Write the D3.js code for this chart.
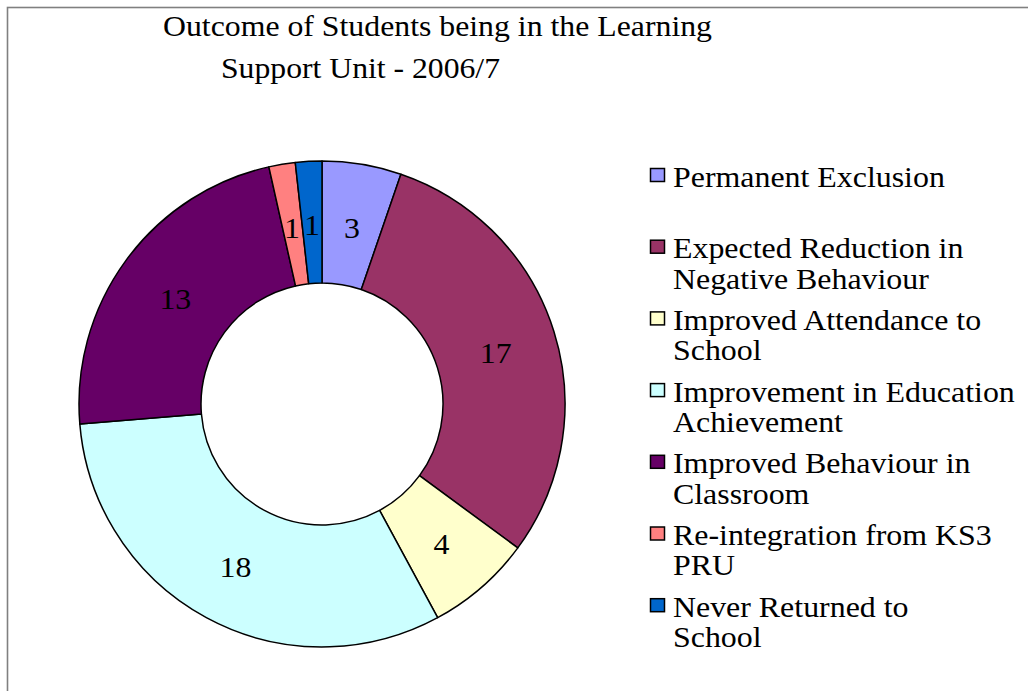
<!DOCTYPE html>
<html>
<head>
<meta charset="utf-8">
<script src="https://cdn.jsdelivr.net/npm/d3@7/dist/d3.min.js"></script>
<style>
  body { margin: 0; background: #fff; }
  text { font-family: "Liberation Serif", "Times New Roman", serif; fill: #000; }
</style>
</head>
<body>
<div id="chart"></div>
<script>
var titleLines = ["Outcome of Students being in the Learning", "Support Unit - 2006/7"];
var categories = [
    "Permanent Exclusion",
    "Expected Reduction in\nNegative Behaviour",
    "Improved Attendance to\nSchool",
    "Improvement in Education\nAchievement",
    "Improved Behaviour in\nClassroom",
    "Re-integration from KS3\nPRU",
    "Never Returned to\nSchool"
];
var values = [3, 17, 4, 18, 13, 1, 1];
var colors = ["#9999ff", "#993366", "#ffffcc", "#ccffff", "#660066", "#ff8080", "#0066cc"];

var width = 1028, height = 691;
var cx = 322, cy = 404, outerR = 243, innerR = 121;
var stretch = 1.1; // the original text is a bit wide

var svg = d3.select("#chart").append("svg")
    .attr("width", width)
    .attr("height", height);

// chart area frame (only top and left edges are visible)
svg.append("rect")
    .attr("x", 7.5).attr("y", 7.5)
    .attr("width", 1200).attr("height", 900)
    .attr("fill", "none")
    .attr("stroke", "#808080")
    .attr("stroke-width", 1.6);

// title
var titleX = [163, 221], titleY = [36, 78], titleW = [549, 279];
titleLines.forEach(function(t, i) {
    svg.append("text")
        .attr("x", titleX[i]).attr("y", titleY[i])
        .attr("font-size", 29)
        .attr("textLength", titleW[i])
        .attr("lengthAdjust", "spacingAndGlyphs")
        .text(t);
});

var pie = d3.pie().sort(null).value(function(d) { return d; });
var arcs = pie(values);
var arc = d3.arc().innerRadius(innerR).outerRadius(outerR);
var labelArc = d3.arc().innerRadius((innerR + outerR) / 2).outerRadius((innerR + outerR) / 2);

var g = svg.append("g").attr("transform", "translate(" + cx + "," + cy + ")");

g.selectAll("path.slice")
    .data(arcs)
    .enter().append("path")
    .attr("class", "slice")
    .attr("d", arc)
    .attr("fill", function(d, i) { return colors[i]; })
    .attr("stroke", "#000")
    .attr("stroke-width", 1.5)
    .attr("stroke-linejoin", "round");

g.selectAll("text.val")
    .data(arcs)
    .enter().append("text")
    .attr("class", "val")
    .attr("transform", function(d) {
        var c = labelArc.centroid(d);
        return "translate(" + c[0] + "," + (c[1] + 3) + ") scale(" + stretch + ",1)";
    })
    .attr("text-anchor", "middle")
    .attr("dy", "0.35em")
    .attr("font-size", 29)
    .text(function(d) { return d.value; });

// legend
var legendX = 650, legendY = 186.5, itemGap = 71.7, lineGap = 30.5;
var legend = svg.append("g");
var items = legend.selectAll("g.item")
    .data(categories)
    .enter().append("g")
    .attr("class", "item")
    .attr("transform", function(d, i) { return "translate(" + legendX + "," + (legendY + i * itemGap) + ")"; });

items.append("rect")
    .attr("x", 0.5).attr("y", -18)
    .attr("width", 14).attr("height", 13)
    .attr("fill", function(d, i) { return colors[i]; })
    .attr("stroke", "#000")
    .attr("stroke-width", 1.5);

items.append("text")
    .attr("transform", "translate(23,0) scale(" + stretch + ",1)")
    .attr("font-size", 29)
    .selectAll("tspan")
    .data(function(d) { return d.split("\n"); })
    .enter().append("tspan")
    .attr("x", 0)
    .attr("dy", function(d, i) { return i === 0 ? 0 : lineGap; })
    .text(function(d) { return d; });
</script>
</body>
</html>
